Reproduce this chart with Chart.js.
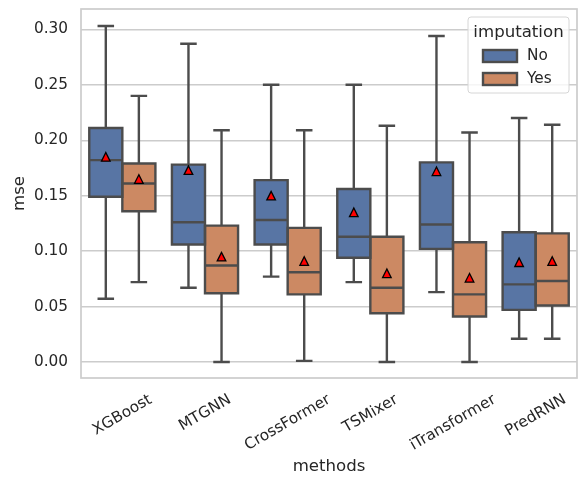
<!DOCTYPE html>
<html>
<head>
<meta charset="utf-8">
<script src="https://cdn.jsdelivr.net/npm/chart.js@4.4.1/dist/chart.umd.min.js"></script>
<style>
    html, body { margin: 0; padding: 0; background: #fff; }
    #wrap { width: 586px; height: 487px; }
</style>
</head>
<body>
<div id="wrap"><canvas id="mseChart"></canvas></div>
<script>
const methods = ['XGBoost', 'MTGNN', 'CrossFormer', 'TSMixer', 'iTransformer', 'PredRNN'];
const groups = ['No', 'Yes'];

// imputation = No
const noLow = [0.057, 0.067, 0.077, 0.072, 0.063, 0.021];
const noQ1 = [0.149, 0.106, 0.106, 0.094, 0.102, 0.047];
const noMedian = [0.182, 0.126, 0.128, 0.113, 0.124, 0.070];
const noQ3 = [0.211, 0.178, 0.164, 0.156, 0.180, 0.117];
const noHigh = [0.303, 0.287, 0.250, 0.250, 0.294, 0.220];
const noMean = [0.185, 0.173, 0.150, 0.135, 0.172, 0.090];

// imputation = Yes
const yesLow = [0.072, 0.000, 0.001, 0.000, 0.000, 0.021];
const yesQ1 = [0.136, 0.062, 0.061, 0.044, 0.041, 0.051];
const yesMedian = [0.161, 0.087, 0.081, 0.067, 0.061, 0.073];
const yesQ3 = [0.179, 0.123, 0.121, 0.113, 0.108, 0.116];
const yesHigh = [0.240, 0.209, 0.209, 0.213, 0.207, 0.214];
const yesMean = [0.165, 0.095, 0.091, 0.080, 0.076, 0.091];

const yTicks = [0, 0.05, 0.10, 0.15, 0.20, 0.25, 0.30];

const colors = ['#5875a4', '#cc8963'];
const lineGray = '#4c4c4c';
const lineW = 2.4;
const font = 'DejaVu Sans';
const textColor = '#262626';

const stats = [
    { low: noLow, q1: noQ1, med: noMedian, q3: noQ3, high: noHigh, mean: noMean },
    { low: yesLow, q1: yesQ1, med: yesMedian, q3: yesQ3, high: yesHigh, mean: yesMean }
];

// whiskers, outlines, medians, means, x labels, legend
const boxExtras = {
    id: 'boxExtras',
    afterDatasetsDraw(chart) {
        const { ctx } = chart;
        const y = chart.scales.y;
        ctx.save();
        ctx.strokeStyle = lineGray;
        ctx.lineWidth = lineW;
        ctx.lineCap = 'butt';
        stats.forEach((s, di) => {
            chart.getDatasetMeta(di).data.forEach((bar, i) => {
                const { x, width } = bar.getProps(['x', 'width'], true);
                const half = width / 2, cap = width / 4;
                const yq1 = y.getPixelForValue(s.q1[i]);
                const yq3 = y.getPixelForValue(s.q3[i]);
                const ylo = y.getPixelForValue(s.low[i]);
                const yhi = y.getPixelForValue(s.high[i]);
                const ymed = y.getPixelForValue(s.med[i]);
                ctx.beginPath();
                ctx.rect(x - half, yq3, width, yq1 - yq3);
                ctx.moveTo(x, yq3); ctx.lineTo(x, yhi);
                ctx.moveTo(x - cap, yhi); ctx.lineTo(x + cap, yhi);
                ctx.moveTo(x, yq1); ctx.lineTo(x, ylo);
                ctx.moveTo(x - cap, ylo); ctx.lineTo(x + cap, ylo);
                ctx.moveTo(x - half, ymed); ctx.lineTo(x + half, ymed);
                ctx.stroke();
            });
        });
        // mean markers
        ctx.fillStyle = '#ff0000';
        ctx.strokeStyle = '#000000';
        ctx.lineWidth = 1.3;
        ctx.lineJoin = 'miter';
        const r = 4.3;
        stats.forEach((s, di) => {
            chart.getDatasetMeta(di).data.forEach((bar, i) => {
                const x = bar.getProps(['x'], true).x;
                const ym = y.getPixelForValue(s.mean[i]);
                ctx.beginPath();
                ctx.moveTo(x, ym - r);
                ctx.lineTo(x - r, ym + r);
                ctx.lineTo(x + r, ym + r);
                ctx.closePath();
                ctx.fill();
                ctx.stroke();
            });
        });
        ctx.restore();
    },
    afterDraw(chart) {
        const { ctx, chartArea: a } = chart;
        const xs = chart.scales.x;
        ctx.save();
        // frame
        ctx.strokeStyle = '#cccccc';
        ctx.lineWidth = 1.7;
        ctx.strokeRect(a.left, a.top, a.right - a.left, a.bottom - a.top);

        // rotated category labels, centred under each tick
        const fs = 15.3;
        ctx.font = fs + 'px "' + font + '"';
        ctx.fillStyle = textColor;
        ctx.textAlign = 'center';
        ctx.textBaseline = 'middle';
        const ang = Math.PI / 6;
        methods.forEach((m, i) => {
            const w = ctx.measureText(m).width;
            const h = fs * 1.16;
            const boxH = w * Math.sin(ang) + h * Math.cos(ang);
            const cx = xs.getPixelForTick(i);
            const cy = a.bottom + 13 + boxH / 2;
            ctx.save();
            ctx.translate(cx, cy);
            ctx.rotate(-ang);
            ctx.fillText(m, 0, 0);
            ctx.restore();
        });

        // legend
        const lw = 101, lh = 76;
        const lx = a.right - 8 - lw, ly = a.top + 8;
        ctx.beginPath();
        ctx.roundRect(lx, ly, lw, lh, 3);
        ctx.fillStyle = 'rgba(255,255,255,0.8)';
        ctx.fill();
        ctx.strokeStyle = '#d6d6d6';
        ctx.lineWidth = 1;
        ctx.stroke();
        ctx.fillStyle = textColor;
        ctx.font = '16.6px "' + font + '"';
        ctx.textAlign = 'center';
        ctx.fillText('imputation', lx + lw / 2, ly + 16);
        ctx.font = fs + 'px "' + font + '"';
        ctx.textAlign = 'left';
        groups.forEach((g, i) => {
            const py = ly + 33 + i * 23;
            ctx.fillStyle = colors[i];
            ctx.fillRect(lx + 15, py, 34, 12);
            ctx.strokeStyle = lineGray;
            ctx.lineWidth = lineW;
            ctx.strokeRect(lx + 15, py, 34, 12);
            ctx.fillStyle = textColor;
            ctx.fillText(g, lx + 59, py + 6);
        });
        ctx.restore();
    }
};

new Chart(document.getElementById('mseChart'), {
    type: 'bar',
    data: {
        labels: methods,
        datasets: stats.map((s, di) => ({
            label: groups[di],
            data: s.q1.map((v, i) => [v, s.q3[i]]),
            backgroundColor: colors[di],
            borderWidth: 0,
            categoryPercentage: 0.8,
            barPercentage: 1.0
        }))
    },
    options: {
        responsive: true,
        maintainAspectRatio: false,
        animation: false,
        layout: { padding: { top: 9, right: 9, left: 0, bottom: 0 } },
        plugins: {
            legend: { display: false },
            tooltip: { enabled: false }
        },
        scales: {
            x: {
                grid: { display: false },
                border: { display: false },
                ticks: { display: false },
                title: {
                    display: true, text: 'methods', color: textColor,
                    font: { family: font, size: 16.6 },
                    padding: { top: 0, bottom: 10 }
                },
                afterFit: s => { s.height = 109; }
            },
            y: {
                min: -0.0144,
                max: 0.3183,
                afterBuildTicks: s => { s.ticks = yTicks.map(v => ({ value: v })); },
                grid: { color: '#cccccc', lineWidth: 1.4, drawTicks: false },
                border: { display: false },
                ticks: {
                    color: textColor,
                    font: { family: font, size: 15.3 },
                    padding: 13,
                    callback: v => Number(v).toFixed(2)
                },
                title: {
                    display: true, text: 'mse', color: textColor,
                    font: { family: font, size: 16.6 },
                    padding: { top: 10, bottom: 0 }
                },
                afterFit: s => {
                    s.width = 81;
                    s.paddingTop = 0;
                    s.paddingBottom = 0;
                }
            }
        }
    },
    plugins: [boxExtras]
});
</script>
</body>
</html>
